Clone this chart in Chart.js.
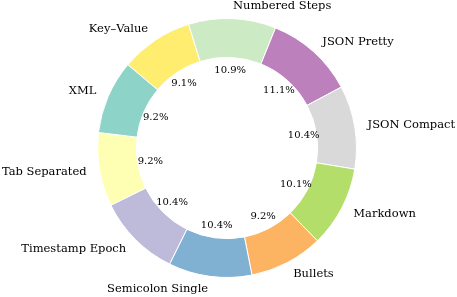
<!DOCTYPE html>
<html>
<head>
<meta charset="utf-8">
<script src="https://cdn.jsdelivr.net/npm/chart.js@4.4.1/dist/chart.umd.min.js"></script>
<style>
  html, body { margin: 0; padding: 0; background: #ffffff; }
  #c { display: block; }
</style>
</head>
<body>
<canvas id="c" width="457" height="297"></canvas>
<script>
// Categories in clockwise drawing order (starting at Key–Value)
const categories = [
  "Key–Value", "Numbered Steps", "JSON Pretty", "JSON Compact", "Markdown",
  "Bullets", "Semicolon Single", "Timestamp Epoch", "Tab Separated", "XML"
];
// Share of each category (%)
const shares = [9.1, 10.9, 11.1, 10.4, 10.1, 9.2, 10.4, 10.4, 9.2, 9.2];
const sliceColors = [
  "#ffed6f", "#ccebc5", "#bc80bd", "#d9d9d9", "#b3de69",
  "#fdb462", "#80b1d3", "#bebada", "#ffffb3", "#8dd3c7"
];

const labelPlugin = {
  id: "sliceLabels",
  afterDatasetsDraw(chart) {
    const ctx = chart.ctx;
    const meta = chart.getDatasetMeta(0);
    const data = chart.data.datasets[0].data;
    const total = data.reduce((a, b) => a + b, 0);
    ctx.save();
    ctx.fillStyle = "#000000";
    meta.data.forEach((arc, i) => {
      const p = arc.getProps(["x", "y", "startAngle", "endAngle", "outerRadius"], true);
      const mid = (p.startAngle + p.endAngle) / 2;
      const cx = Math.cos(mid), cy = Math.sin(mid);
      // outer category label
      const lr = p.outerRadius * 1.1;
      const lx = p.x + cx * lr, ly = p.y + cy * lr;
      ctx.font = "11.5px 'DejaVu Serif'";
      ctx.textBaseline = "middle";
      ctx.textAlign = lx > p.x ? "left" : "right";
      ctx.fillText(chart.data.labels[i], lx, ly);
      // percentage label
      const pr = p.outerRadius * 0.6;
      ctx.font = "10px 'DejaVu Serif'";
      ctx.textAlign = "center";
      ctx.fillText((data[i] / total * 100).toFixed(1) + "%", p.x + cx * pr, p.y + cy * pr);
    });
    ctx.restore();
  }
};

new Chart(document.getElementById("c"), {
  type: "doughnut",
  data: {
    labels: categories,
    datasets: [{
      data: shares,
      backgroundColor: sliceColors,
      borderColor: "#ffffff",
      borderWidth: 1
    }]
  },
  options: {
    responsive: false,
    animation: false,
    rotation: -50,
    cutout: "70%",
    layout: { padding: { top: 18, bottom: 19, left: 0, right: 3 } },
    plugins: {
      legend: { display: false },
      tooltip: { enabled: false }
    }
  },
  plugins: [labelPlugin]
});
</script>
</body>
</html>
